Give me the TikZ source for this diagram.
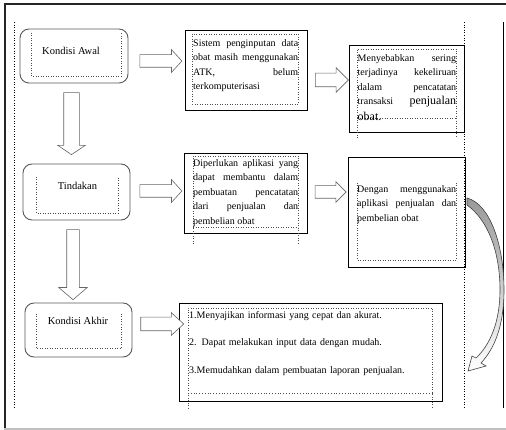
\documentclass[tikz,border=0pt]{standalone}
\usepackage{fontspec}
\setmainfont{Liberation Serif}
\usetikzlibrary{shapes.arrows}

\tikzset{
  rbox/.style={draw=black!65, line width=0.9pt, rounded corners=9pt},
  pbox/.style={draw=black, line width=0.8pt},
  inbox/.style={draw=black!70, dotted, line width=0.5pt},
  blk/.style={single arrow, draw=black!60, fill=white, line width=0.6pt,
    inner xsep=0pt, outer sep=0pt, single arrow head indent=0pt},
  txt/.style={font=\fontsize{10}{14.5}\selectfont, inner sep=0pt, anchor=north west, align=justify},
  lbl/.style={font=\fontsize{10.5}{12}\selectfont, inner sep=0pt, anchor=base}
}

\begin{document}
\begin{tikzpicture}[x=1pt,y=-1pt]
\useasboundingbox (0,0) rectangle (506,430);
% frame
\draw [black!85, line width=1.6pt] (5,432) -- (5,4) -- (510,4);
\draw [black!25, line width=1.5pt] (4,429) -- (510,429);
\draw [dotted, line width=0.6pt] (14,22) -- (14,408);
\draw [dotted, line width=0.6pt] (464.5,22) -- (464.5,408);
\draw [line width=0.8pt] (503,22) -- (503,408);

% left column
\node [rbox, minimum width=108pt, minimum height=54pt] (awal) at (74,56) {};
\node [rbox, minimum width=107pt, minimum height=56pt] (tind) at (76.5,192) {};
\node [rbox, minimum width=107pt, minimum height=54pt] (akhir) at (78.5,330) {};
\draw [inbox] (31,33) -- (31,76) -- (121,76) -- (121,33);
\draw [inbox] (36,177) -- (36,213) -- (118,213) -- (118,177);
\draw [inbox] (36,314) -- (36,348) -- (121,348) -- (121,314);
\node [lbl] (awaltxt) at (71,55) {Kondisi Awal};
\node [lbl] (tindtxt) at (77.5,190) {Tindakan};
\node [lbl] (akhirtxt) at (78,325) {Kondisi Akhir};

% middle column
\node [pbox, minimum width=122pt, minimum height=80pt] (sis) at (246,70) {};
\node [pbox, minimum width=123pt, minimum height=80pt] (dip) at (245.5,193) {};
\node [pbox, minimum width=263pt, minimum height=98pt] (hasil) at (310.5,352) {};
\draw [inbox] (192,34) rectangle (298,104);
\draw [inbox] (193,244) -- (193,156) -- (298,156) -- (298,244);
\draw [inbox] (193,227) -- (298,227);
\draw [inbox] (188,408) -- (188,308) -- (432,308) -- (432,408);
\draw [inbox, line width=0.8pt] (188,393) -- (432,393);
\node [txt, text width=105pt] (sistxt) at (193,39)
  {Sistem penginputan data\linebreak obat masih menggunakan\linebreak ATK, belum\linebreak terkomputerisasi};
\node [txt, text width=105pt] (diptxt) at (193,159)
  {Diperlukan aplikasi yang\linebreak dapat membantu dalam\linebreak pembuatan pencatatan\linebreak dari penjualan dan\linebreak pembelian obat};
\node [txt, text width=240pt, align=left] (hasiltxt) at (189,311)
  {1.Menyajikan informasi yang cepat dan akurat.\\[13pt]
   2. Dapat melakukan input data dengan mudah.\\[13pt]
   3.Memudahkan dalam pembuatan laporan penjualan.};

% right column
\node [pbox, minimum width=115pt, minimum height=87pt] (sebab) at (406.5,88.5) {};
\node [pbox, minimum width=117pt, minimum height=110pt] (dengan) at (406.5,212) {};
\draw [inbox] (357,138) -- (357,49) -- (456,49) -- (456,138);
\draw [inbox] (357,118) -- (456,118);
\draw [inbox] (357,183) -- (357,260) -- (456,260) -- (456,183);
\node [txt, text width=98.5pt] (sebabtxt) at (357.5,54)
  {Menyebabkan sering\linebreak terjadinya kekeliruan\linebreak dalam pencatatan\linebreak transaksi {\fontsize{12}{14.5}\selectfont penjualan}\linebreak {\fontsize{12}{14.5}\selectfont\rule{0pt}{12.5pt}obat.}};
\node [txt, text width=99pt] (dengantxt) at (357,185)
  {Dengan menggunakan\linebreak aplikasi penjualan dan\linebreak pembelian obat};

% block arrows
\node [blk, inner ysep=6pt, minimum height=42pt, single arrow head extend=5pt, single arrow tip angle=95] (a1) at (158,61) {};
\node [blk, inner ysep=6pt, minimum height=42pt, single arrow head extend=5pt, single arrow tip angle=95] (a2) at (158,191) {};
\node [blk, inner ysep=6.5pt, minimum height=43pt, single arrow head extend=4.5pt, single arrow tip angle=85] (a3) at (158.5,324) {};
\node [blk, inner ysep=6.5pt, minimum height=33pt, single arrow head extend=5.5pt] (a4) at (328.5,80) {};
\node [blk, inner ysep=6pt, minimum height=31pt, single arrow head extend=4pt] (a5) at (327.5,192) {};
\node [blk, rotate=-90, inner ysep=7.5pt, minimum height=62pt, single arrow head extend=6pt, single arrow tip angle=112] (d1) at (71.5,121) {};
\node [blk, rotate=-90, inner ysep=6pt, minimum height=70pt, single arrow head extend=8pt, single arrow tip angle=99] (d2) at (73,262) {};

% curved arrow
\draw [black!75, line width=0.6pt, top color=black!40, bottom color=white]
  (467,205) -- (467,198) .. controls (490,204) and (504,245) .. (504,290)
  .. controls (504,325) and (495,348) .. (481,363)
  -- (486,366) -- (468,371) -- (472,356) -- (476,358)
  .. controls (490,345) and (500,322) .. (500,290)
  .. controls (500,252) and (488,220) .. (467,205) -- cycle;
\end{tikzpicture}
\end{document}
